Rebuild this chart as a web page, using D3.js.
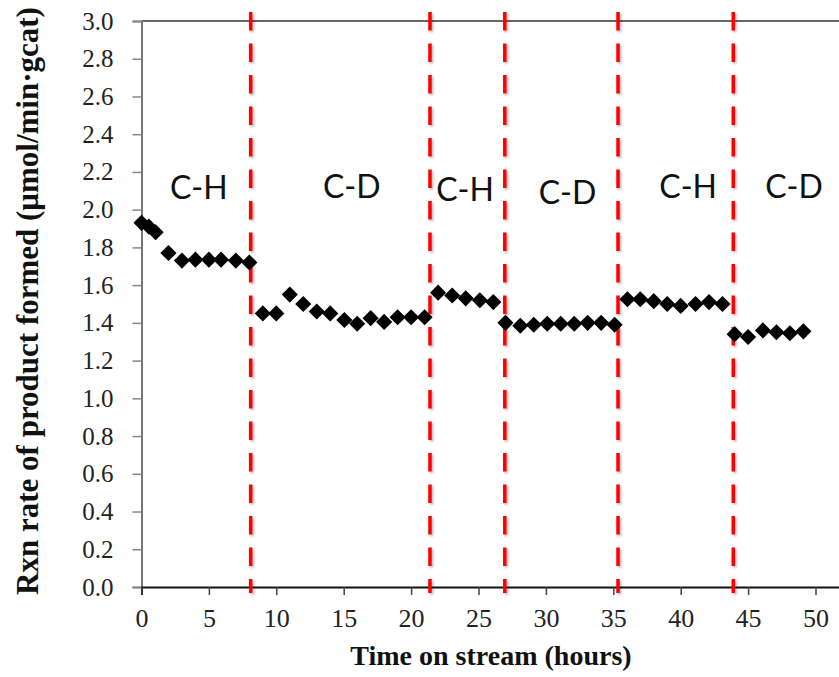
<!DOCTYPE html>
<html>
<head>
<meta charset="utf-8">
<script src="https://cdn.jsdelivr.net/npm/d3@7"></script>
<style>
  html, body { margin: 0; padding: 0; background: #fff; }
  svg { display: block; }
</style>
</head>
<body>
<svg id="chart" width="839" height="677"></svg>
<script>
// Time on stream (hours) for each measurement
const hours = [
  0, 0.55, 1.05, 2, 3, 4, 5, 5.9, 7, 8,
  9, 10, 11, 12, 13, 14, 15.05, 16, 17, 18, 19, 20, 21,
  22, 23.05, 24.05, 25.1, 26.1,
  27, 28.1, 29.1, 30.1, 31.1, 32.1, 33.1, 34.1, 35.1,
  36.05, 37, 38, 39, 40, 41.1, 42.1, 43.1,
  44, 45, 46.1, 47.1, 48.1, 49.1
];
// Reaction rate of product formed (umol/min·gcat)
const rates = [
  1.93, 1.91, 1.88, 1.77, 1.73, 1.735, 1.735, 1.735, 1.73, 1.72,
  1.45, 1.45, 1.55, 1.50, 1.46, 1.45, 1.415, 1.395, 1.425, 1.405, 1.43, 1.43, 1.43,
  1.56, 1.545, 1.53, 1.52, 1.51,
  1.40, 1.385, 1.39, 1.395, 1.395, 1.395, 1.40, 1.40, 1.39,
  1.525, 1.525, 1.515, 1.50, 1.49, 1.50, 1.51, 1.50,
  1.34, 1.325, 1.36, 1.35, 1.345, 1.355
];
// Hours at which the feed was switched between C-H and C-D
const switchHours = [8.1, 21.4, 26.95, 35.35, 43.9];
// Feed phase labels and their anchor (hour, rate) in data space
const phaseNames = ["C-H", "C-D", "C-H", "C-D", "C-H", "C-D"];
const phaseHour  = [4.25, 15.6, 24.0, 31.6, 40.55, 48.4];
const phaseRate  = [2.058, 2.063, 2.048, 2.032, 2.063, 2.063];

const xTicks = [0, 5, 10, 15, 20, 25, 30, 35, 40, 45, 50];
const yTicks = [0, 0.2, 0.4, 0.6, 0.8, 1.0, 1.2, 1.4, 1.6, 1.8, 2.0, 2.2, 2.4, 2.6, 2.8, 3.0];

const svg = d3.select("#chart");
const plotLeft = 141.5, plotTop = 21, plotBottom = 587;

const x = d3.scaleLinear().domain([0, 52]).range([plotLeft, plotLeft + 52 * 13.48]);
const y = d3.scaleLinear().domain([0, 3]).range([plotBottom, plotTop]);

const serif = "'Liberation Serif', 'Times New Roman', serif";

// soft shadow behind the switch markers
const defs = svg.append("defs");
const f = defs.append("filter").attr("id", "shadow")
  .attr("x", "-200%").attr("y", "-5%").attr("width", "500%").attr("height", "110%");
f.append("feDropShadow").attr("dx", 1.5).attr("dy", 1.5)
  .attr("stdDeviation", 1.2).attr("flood-color", "#000").attr("flood-opacity", 0.3);

// top frame line
svg.append("line")
  .attr("x1", plotLeft).attr("x2", 839).attr("y1", plotTop).attr("y2", plotTop)
  .attr("stroke", "#333").attr("stroke-width", 1.5);

// y axis
const yAxis = svg.append("g")
  .attr("transform", `translate(${plotLeft},0)`)
  .call(d3.axisLeft(y).tickValues(yTicks).tickSize(9).tickPadding(19)
    .tickFormat(d3.format(".1f")));
yAxis.select(".domain").attr("stroke", "#777").attr("stroke-width", 2);
yAxis.selectAll(".tick line").attr("stroke", "#888").attr("stroke-width", 1.5);
yAxis.selectAll(".tick text")
  .attr("font-family", serif).attr("font-size", 25).attr("fill", "#222");

// x axis
const xAxis = svg.append("g")
  .attr("transform", `translate(0,${plotBottom})`)
  .call(d3.axisBottom(x).tickValues(xTicks).tickSize(8).tickPadding(14)
    .tickFormat(d3.format("d")));
xAxis.select(".domain").attr("stroke", "#111").attr("stroke-width", 2);
xAxis.selectAll(".tick line").attr("stroke", "#444").attr("stroke-width", 1.5);
xAxis.selectAll(".tick text")
  .attr("font-family", serif).attr("font-size", 26).attr("fill", "#222");

// switch lines (red dashed)
svg.append("g").attr("filter", "url(#shadow)")
  .selectAll("line").data(switchHours).join("line")
  .attr("x1", d => x(d)).attr("x2", d => x(d))
  .attr("y1", 12).attr("y2", 593)
  .attr("stroke", "#ff0000").attr("stroke-width", 3.5)
  .attr("stroke-dasharray", "18.5 13");

// data points: black diamonds
const diamond = d3.symbol().type(d3.symbolSquare).size(130);
svg.append("g").selectAll("path").data(hours).join("path")
  .attr("d", diamond)
  .attr("transform", (d, i) => `translate(${x(d)},${y(rates[i])}) rotate(45)`)
  .attr("fill", "#000");

// phase labels
svg.append("g").selectAll("text").data(phaseNames).join("text")
  .attr("x", (d, i) => x(phaseHour[i]))
  .attr("y", (d, i) => y(phaseRate[i]))
  .attr("text-anchor", "middle")
  .attr("font-family", "Lato, 'Open Sans', sans-serif")
  .attr("font-size", 32).attr("fill", "#111")
  .text(d => d);

// axis titles
svg.append("text")
  .attr("x", 491).attr("y", 665)
  .attr("text-anchor", "middle")
  .attr("font-family", serif).attr("font-weight", "bold").attr("font-size", 28)
  .attr("fill", "#111")
  .text("Time on stream (hours)");

svg.append("text")
  .attr("transform", "translate(38,301) rotate(-90)")
  .attr("text-anchor", "middle")
  .attr("font-family", serif).attr("font-weight", "bold").attr("font-size", 31)
  .attr("fill", "#111")
  .text("Rxn rate of product formed (μmol/min·gcat)");
</script>
</body>
</html>
